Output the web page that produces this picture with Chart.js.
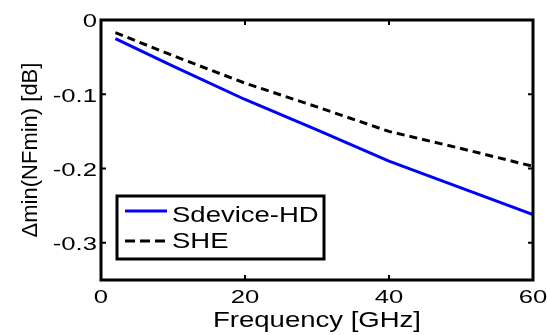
<!DOCTYPE html>
<html>
<head>
<meta charset="utf-8">
<script src="https://cdn.jsdelivr.net/npm/chart.js@4/dist/chart.umd.min.js"></script>
<style>
  html, body { margin: 0; padding: 0; background: #fff; }
  #wrap { width: 548px; height: 335px; position: relative; }
</style>
</head>
<body>
<div id="wrap"><canvas id="chart"></canvas></div>
<script>
    const frequency = [2, 10, 20, 30, 40, 50, 60];
    const sdeviceHD = [-0.025, -0.062, -0.107, -0.148, -0.190, -0.226, -0.262];
    const she = [-0.017, -0.048, -0.085, -0.117, -0.150, -0.173, -0.197];
    const xTicks = [0, 20, 40, 60];
    const yTicks = [0, -0.1, -0.2, -0.3];
    const seriesNames = ["Sdevice-HD", "SHE"];
    const xTitle = "Frequency [GHz]";
    const yTitle = "\u0394min(NFmin) [dB]";

    const font = "Liberation Sans, Arial, sans-serif";

    function toPoints(xs, ys) {
        return xs.map((x, i) => ({ x: x, y: ys[i] }));
    }

    function fmtY(v) {
        return v === 0 ? "0" : v.toFixed(1);
    }

    // the source figure is stretched sideways, so text gets a horizontal scale
    function stretchedText(ctx, text, x, y, size, sx, align, baseline) {
        ctx.save();
        ctx.translate(x, y);
        ctx.scale(sx, 1);
        ctx.font = size + "px " + font;
        ctx.textAlign = align;
        ctx.textBaseline = baseline;
        ctx.fillStyle = "#000";
        ctx.fillText(text, 0, 0);
        ctx.restore();
    }

    // matlab style box, inward ticks, labels and legend box
    const matlabFrame = {
        id: "matlabFrame",
        afterDraw(chart) {
            const { ctx, chartArea } = chart;
            const xs = chart.scales.x;
            const ys = chart.scales.y;
            const tick = 5;
            ctx.save();
            ctx.strokeStyle = "#000";
            ctx.lineWidth = 3;
            ctx.strokeRect(chartArea.left, chartArea.top,
                chartArea.right - chartArea.left, chartArea.bottom - chartArea.top);
            ctx.lineWidth = 2;
            ctx.beginPath();
            xTicks.forEach((v) => {
                const px = xs.getPixelForValue(v);
                ctx.moveTo(px, chartArea.bottom);
                ctx.lineTo(px, chartArea.bottom - tick);
                ctx.moveTo(px, chartArea.top);
                ctx.lineTo(px, chartArea.top + tick);
            });
            yTicks.forEach((v) => {
                const py = ys.getPixelForValue(v);
                ctx.moveTo(chartArea.left, py);
                ctx.lineTo(chartArea.left + tick, py);
                ctx.moveTo(chartArea.right, py);
                ctx.lineTo(chartArea.right - tick, py);
            });
            ctx.stroke();

            // tick labels
            xTicks.forEach((v) => {
                stretchedText(ctx, String(v), xs.getPixelForValue(v), chartArea.bottom + 18,
                    19, 1.35, "center", "middle");
            });
            yTicks.forEach((v) => {
                stretchedText(ctx, fmtY(v), chartArea.left - 4, ys.getPixelForValue(v) + 2,
                    19, 1.35, "right", "middle");
            });

            // axis titles
            stretchedText(ctx, xTitle, (chartArea.left + chartArea.right) / 2, 327,
                22, 1.25, "center", "alphabetic");
            ctx.save();
            ctx.translate(37, (chartArea.top + chartArea.bottom) / 2);
            ctx.rotate(-Math.PI / 2);
            ctx.font = "22px " + font;
            ctx.textAlign = "center";
            ctx.textBaseline = "alphabetic";
            ctx.fillStyle = "#000";
            ctx.fillText(yTitle, 0, 0);
            ctx.restore();

            // legend
            const lx = 117, ly = 196, lw = 207, lh = 63;
            ctx.fillStyle = "#fff";
            ctx.fillRect(lx, ly, lw, lh);
            ctx.lineWidth = 3;
            ctx.strokeStyle = "#000";
            ctx.strokeRect(lx, ly, lw, lh);
            chart.data.datasets.forEach((ds, i) => {
                const y = ly + 15 + i * 30;
                ctx.beginPath();
                ctx.strokeStyle = ds.borderColor;
                ctx.lineWidth = ds.borderWidth;
                ctx.setLineDash(ds.borderDash ? [10, 5] : []);
                ctx.moveTo(lx + 8, y);
                ctx.lineTo(lx + 50, y);
                ctx.stroke();
                ctx.setLineDash([]);
                stretchedText(ctx, ds.label, lx + 55, ly + 26 + i * 26,
                    22, 1.25, "left", "alphabetic");
            });
            ctx.restore();
        },
    };

    new Chart(document.getElementById("chart"), {
        type: "line",
        data: {
            datasets: [
                {
                    label: seriesNames[0],
                    data: toPoints(frequency, sdeviceHD),
                    borderColor: "#0000ff",
                    borderWidth: 3,
                    pointRadius: 0,
                    tension: 0,
                },
                {
                    label: seriesNames[1],
                    data: toPoints(frequency, she),
                    borderColor: "#000000",
                    borderWidth: 3,
                    borderDash: [8, 5],
                    pointRadius: 0,
                    tension: 0,
                },
            ],
        },
        options: {
            responsive: true,
            maintainAspectRatio: false,
            animation: false,
            layout: { padding: { left: 0, right: 15, top: 20, bottom: 0 } },
            plugins: {
                legend: { display: false },
                tooltip: { enabled: false },
            },
            scales: {
                x: {
                    type: "linear",
                    min: 0,
                    max: 60,
                    grid: { display: false },
                    border: { display: false },
                    ticks: { display: false },
                    afterBuildTicks(scale) {
                        scale.ticks = xTicks.map((v) => ({ value: v }));
                    },
                    afterFit(scale) {
                        scale.height = 55;
                    },
                },
                y: {
                    type: "linear",
                    min: -0.35,
                    max: 0,
                    grid: { display: false },
                    border: { display: false },
                    ticks: { display: false },
                    afterBuildTicks(scale) {
                        scale.ticks = yTicks.map((v) => ({ value: v }));
                    },
                    afterFit(scale) {
                        scale.width = 101;
                    },
                },
            },
        },
        plugins: [matlabFrame],
    });
</script>
</body>
</html>
